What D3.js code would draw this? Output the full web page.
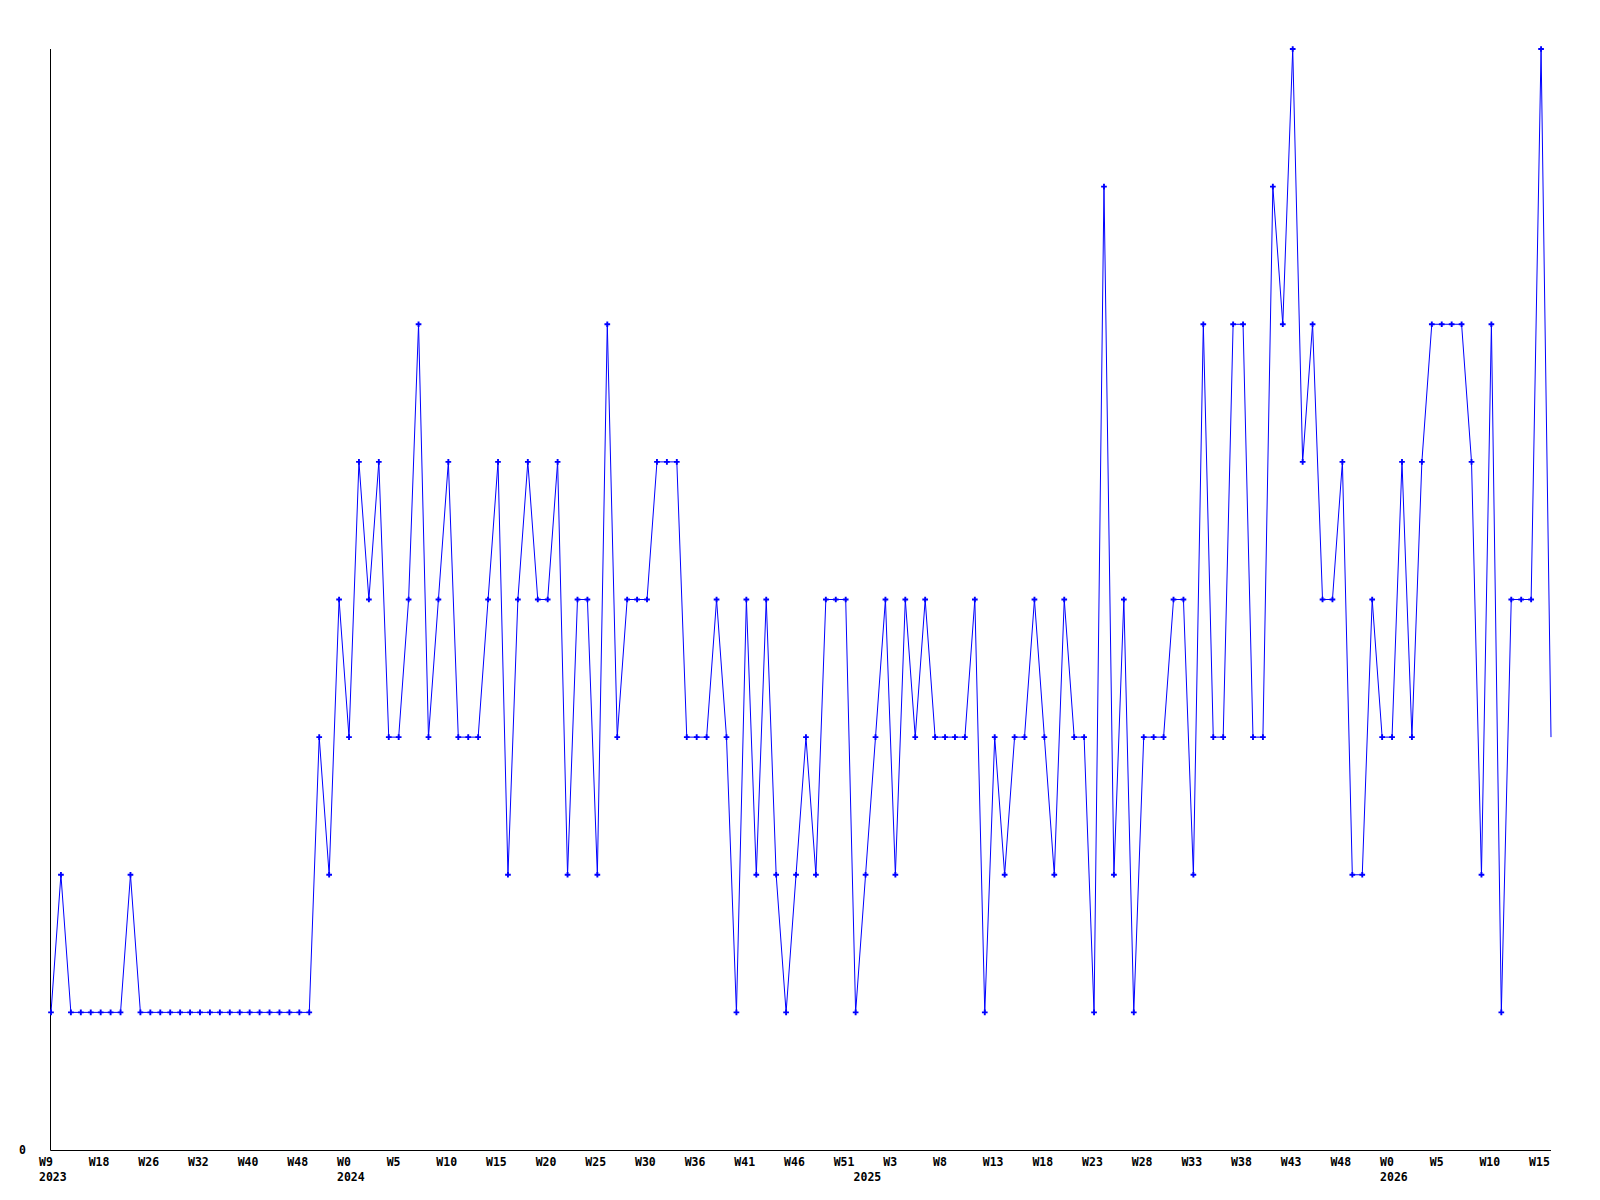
<!DOCTYPE html>
<html>
<head>
<meta charset="utf-8">
<script src="https://cdn.jsdelivr.net/npm/d3@7"></script>
<style>
  body { margin: 0; background: #fff; }
  text { font-family: "DejaVu Sans Mono", monospace; font-weight: bold; font-size: 11.5px; }
</style>
</head>
<body>
<div id="chartArea"></div>
<script>
// week numbers shown on the x axis, one list per year
var weeks2023 = [9,11,13,14,16,18,20,21,23,24,26,27,28,29,31,32,34,35,37,38,40,42,43,45,46,48,49,50,51,52];
var weeks2024 = [0,1,2,3,4,5,6,7,8,9,10,11,12,13,14,15,16,17,18,19,20,21,22,23,24,25,26,27,28,29,30,31,32,33,34,
                 36,37,38,39,40,41,42,43,44,45,46,47,48,49,50,51,52];
var weeks2025 = [0,1,2,3,4,5,6,7,8,9,10,11,12,13,14,15,16,17,18,19,20,21,22,23,24,25,26,27,28,29,30,31,32,33,34,
                 35,36,37,38,39,40,41,42,43,44,45,46,47,48,49,50,51,52];
var weeks2026 = [0,1,2,3,4,5,6,7,8,9,10,11,12,13,14,15,16];
var years = ['2023', '2024', '2025', '2026'];

// weekly counts
var counts = [1,2,1,1,1,1,1,1,2,1,
              1,1,1,1,1,1,1,1,1,1,
              1,1,1,1,1,1,1,3,2,4,
              3,5,4,5,3,3,4,6,3,4,
              5,3,3,3,4,5,2,4,5,4,
              4,5,2,4,4,2,6,3,4,4,
              4,5,5,5,3,3,3,4,3,1,
              4,2,4,2,1,2,3,2,4,4,
              4,1,2,3,4,2,4,3,4,3,
              3,3,3,4,1,3,2,3,3,4,
              3,2,4,3,3,1,7,2,4,1,
              3,3,3,4,4,2,6,3,3,6,
              6,3,3,7,6,8,5,6,4,4,
              5,2,2,4,3,3,5,3,5,6,
              6,6,6,5,2,6,1,4,4,4,
              8,3];

var data = [];
[weeks2023, weeks2024, weeks2025, weeks2026].forEach(function(list, yi) {
    list.forEach(function(w) {
        data.push({key: years[yi] + '-W' + w, year: years[yi], week: w});
    });
});
data.forEach(function(d, i) { d.value = counts[i]; });

var width = 1600, height = 1200;
var margin = {top: 49, right: 49, bottom: 50, left: 51};

var svg = d3.select('#chartArea').append('svg')
    .attr('width', width)
    .attr('height', height);

var xscale = d3.scalePoint()
    .domain(data.map(function(d) { return d.key; }))
    .range([margin.left, width - margin.right]);
var yscale = d3.scaleLinear().domain([0, 8]).range([height - margin.bottom, margin.top]);

// axes: plain lines, labels drawn by hand below
svg.append('line')
    .attr('x1', margin.left - 0.5).attr('x2', margin.left - 0.5)
    .attr('y1', margin.top).attr('y2', yscale(0) + 0.5)
    .attr('stroke', '#000');
svg.append('line')
    .attr('x1', margin.left - 0.5).attr('x2', width - margin.right)
    .attr('y1', yscale(0) + 0.5).attr('y2', yscale(0) + 0.5)
    .attr('stroke', '#000');

svg.append('text')
    .attr('x', 26)
    .attr('y', yscale(0) + 4)
    .attr('text-anchor', 'end')
    .text('0');

var ticks = data.filter(function(d, i) { return i % 5 === 0; });
svg.append('g').selectAll('text').data(ticks).enter().append('text')
    .attr('x', function(d) { return xscale(d.key) - 12; })
    .attr('y', yscale(0) + 15.5)
    .text(function(d) { return 'W' + d.week; });

// year label under the first week of each year
var firsts = data.filter(function(d, i) { return i === 0 || data[i - 1].year !== d.year; });
svg.append('g').selectAll('text').data(firsts).enter().append('text')
    .attr('x', function(d) { return xscale(d.key) - 12; })
    .attr('y', yscale(0) + 31)
    .text(function(d) { return d.year; });

var line = d3.line()
    .x(function(d) { return xscale(d.key); })
    .y(function(d) { return yscale(d.value); });

svg.append('path')
    .datum(data)
    .attr('d', line)
    .attr('fill', 'none')
    .attr('stroke', '#0000ff')
    .attr('stroke-width', 1);

// markers on every point except the current (last) week
svg.append('g').selectAll('path').data(data.slice(0, -1)).enter().append('path')
    .attr('transform', function(d) { return 'translate(' + xscale(d.key) + ',' + yscale(d.value) + ')'; })
    .attr('d', d3.symbol().type(d3.symbolCross).size(18))
    .attr('fill', '#0000ff');
</script>
</body>
</html>
